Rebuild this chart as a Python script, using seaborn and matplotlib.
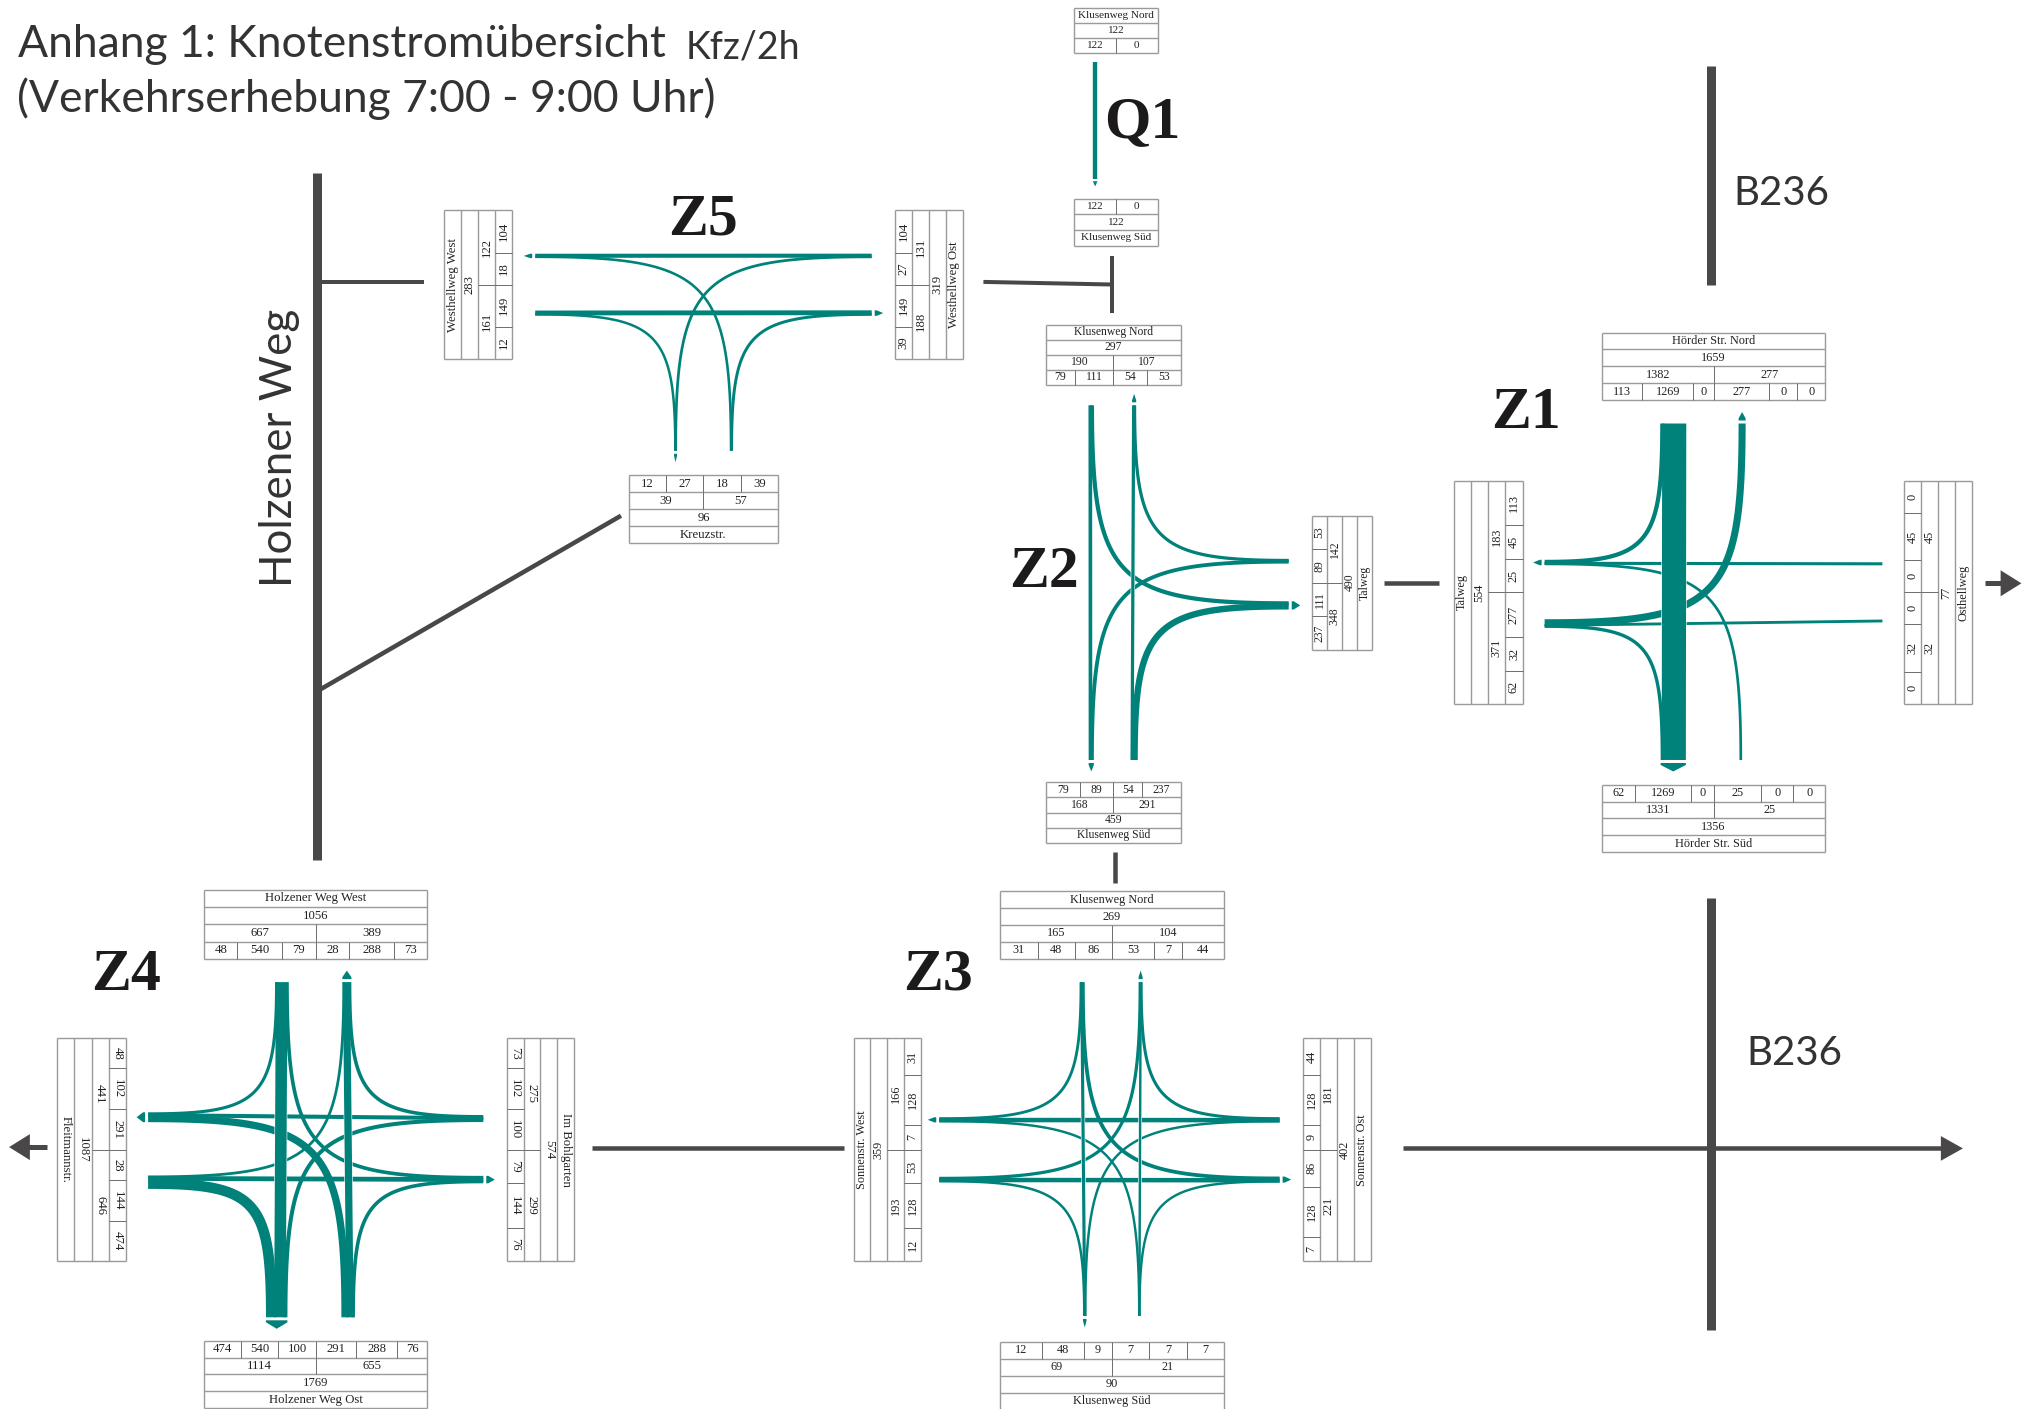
import numpy as np
import matplotlib
matplotlib.use("Agg")
import matplotlib.pyplot as plt
import seaborn as sns

# ---------- data: counts per arm, in spatial order ----------
Q1_N = ("Klusenweg Nord", 122, None, [[122], [0]])
Q1_S = ("Klusenweg Süd", 122, None, [[122], [0]])

Z5_W = ("Westhellweg West", 283, [122, 161], [[104, 18], [149, 12]])
Z5_E = ("Westhellweg Ost", 319, [131, 188], [[104, 27], [149, 39]])
Z5_S = ("Kreuzstr.", 96, [39, 57], [[12, 27], [18, 39]])

Z2_N = ("Klusenweg Nord", 297, [190, 107], [[79, 111], [54, 53]])
Z2_E = ("Talweg", 490, [142, 348], [[53, 89], [111, 237]])
Z2_S = ("Klusenweg Süd", 459, [168, 291], [[79, 89], [54, 237]])

Z1_N = ("Hörder Str. Nord", 1659, [1382, 277], [[113, 1269, 0], [277, 0, 0]])
Z1_W = ("Talweg", 554, [183, 371], [[113, 45, 25], [277, 32, 62]])
Z1_E = ("Osthellweg", 77, [45, 32], [[0, 45, 0], [0, 32, 0]])
Z1_S = ("Hörder Str. Süd", 1356, [1331, 25], [[62, 1269, 0], [25, 0, 0]])

Z3_N = ("Klusenweg Nord", 269, [165, 104], [[31, 48, 86], [53, 7, 44]])
Z3_W = ("Sonnenstr. West", 359, [166, 193], [[31, 128, 7], [53, 128, 12]])
Z3_E = ("Sonnenstr. Ost", 402, [181, 221], [[44, 128, 9], [86, 128, 7]])
Z3_S = ("Klusenweg Süd", 90, [69, 21], [[12, 48, 9], [7, 7, 7]])

Z4_N = ("Holzener Weg West", 1056, [667, 389], [[48, 540, 79], [28, 288, 73]])
Z4_W = ("Fleitmannstr.", 1087, [441, 646], [[48, 102, 291], [28, 144, 474]])
Z4_E = ("Im Bohlgarten", 574, [275, 299], [[73, 102, 100], [79, 144, 76]])
Z4_S = ("Holzener Weg Ost", 1769, [1114, 655], [[474, 540, 100], [291, 288, 76]])

TITLE_1 = "Anhang 1: Knotenstromübersicht"
TITLE_UNIT = "Kfz/2h"
TITLE_2 = "(Verkehrserhebung 7:00 - 9:00 Uhr)"

# ---------- layout (in 1568-wide sketch units) ----------
S = 2037 / 1568
TEAL = "#00827b"
ROAD = "#4a4748"
INK = "#1c1a1a"
FLOW_K = 0.0172
FLOW_MIN = 2.3

JUNCTIONS = {
    "Z5": {
        "W": dict(data=Z5_W, box=(342, 394, 162, 276), end=412, inn=241, out=197, arrow=True),
        "E": dict(data=Z5_E, box=(689, 741, 162, 276), end=671, inn=197, out=241, arrow=True),
        "S": dict(data=Z5_S, box=(484, 599, 366, 418), end=347, inn=563, out=520, arrow=True),
    },
    "Z2": {
        "N": dict(data=Z2_N, box=(805, 909, 250, 296), end=312, inn=840, out=873, arrow=True),
        "E": dict(data=Z2_E, box=(1010, 1056, 397, 500), end=992, inn=432, out=466, arrow=True),
        "S": dict(data=Z2_S, box=(805, 909, 602, 649), end=585, inn=873, out=840, arrow=True),
    },
    "Z1": {
        "N": dict(data=Z1_N, box=(1233, 1405, 256, 308), end=326, inn=1288, out=1341, arrow=True),
        "W": dict(data=Z1_W, box=(1119, 1172, 370, 542), end=1189, inn=480, out=433, arrow=True),
        "E": dict(data=Z1_E, box=(1466, 1518, 370, 542), end=1449, inn=434, out=478, arrow=False),
        "S": dict(data=Z1_S, box=(1233, 1405, 604, 656), end=585, inn=1340, out=1288, arrow=True),
    },
    "Z3": {
        "N": dict(data=Z3_N, box=(770, 942, 686, 738), end=756, inn=833, out=878, arrow=True),
        "W": dict(data=Z3_W, box=(657, 709, 799, 971), end=723, inn=908, out=862, arrow=True),
        "E": dict(data=Z3_E, box=(1003, 1055, 799, 971), end=985, inn=862, out=908, arrow=True),
        "S": dict(data=Z3_S, box=(770, 942, 1033, 1085), end=1013, inn=877, out=835, arrow=True),
    },
    "Z4": {
        "N": dict(data=Z4_N, box=(157, 329, 685, 738), end=756, inn=217, out=267, arrow=True),
        "W": dict(data=Z4_W, box=(44, 97, 799, 971), end=114, inn=910, out=860, arrow=True, rot=-90),
        "E": dict(data=Z4_E, box=(390, 442, 799, 971), end=372, inn=861, out=908, arrow=True, rot=-90),
        "S": dict(data=Z4_S, box=(157, 329, 1032, 1084), end=1014, inn=268, out=213, arrow=True),
    },
}
TABLE_FONT = {"Z5": 9.2, "Z2": 8.4, "Z1": 8.8, "Z3": 8.8, "Z4": 9.2}
ORDER = {"N": "WSE", "W": "NES", "E": "NWS", "S": "WNE"}
IN_GROUP = {"N": 0, "W": 1, "E": 0, "S": 1}
OUTWARD = {"N": (0, -1), "S": (0, 1), "W": (-1, 0), "E": (1, 0)}

sns.set_theme(style="white")
fig = plt.figure(figsize=(20.37, 14.09), dpi=100, facecolor="white")
ax = fig.add_axes([0, 0, 1, 1])
PX = 0.72


def stroke(xs, ys, w, color=TEAL, cap="butt"):
    sns.lineplot(x=list(xs), y=list(ys), sort=False, estimator=None, errorbar=None,
                 linewidth=w * PX, color=color, solid_capstyle=cap, legend=False, ax=ax)


def flow_path(p0, p3, corner):
    p0, p3 = np.array(p0), np.array(p3)
    t = np.linspace(0, 1, 80)[:, None]
    if corner is None:
        return p0 + t * (p3 - p0)
    a = 0.88
    c = np.array(corner)
    p1 = p0 + a * (c - p0)
    p2 = p3 + a * (c - p3)
    return (1 - t) ** 3 * p0 + 3 * (1 - t) ** 2 * t * p1 + 3 * (1 - t) * t ** 2 * p2 + t ** 3 * p3


def offset(values, i):
    return FLOW_K * (sum(values[:i]) + values[i] / 2 - sum(values) / 2)


def port_point(arm, spec, off, key):
    cross = spec[key] * S + off
    end = spec["end"] * S
    return (cross, end) if arm in "NS" else (end, cross)


def draw_arrow(arm, spec, values):
    w = FLOW_MIN + FLOW_K * sum(values)
    dx, dy = OUTWARD[arm]
    px, py = port_point(arm, spec, 0, "out")
    gap, neck, tip = 3.0, 2.0, 6.5
    nx, ny = -dy, dx
    along = [gap, gap + neck, gap + neck + tip, gap + neck, gap]
    across = [-w / 2, -w / 2, 0, w / 2, w / 2]
    xs = [px + dx * a + nx * c for a, c in zip(along, across)]
    ys = [py + dy * a + ny * c for a, c in zip(along, across)]
    ax.fill(xs, ys, color=TEAL, lw=0)


def draw_junction(arms):
    names = list(arms)
    flows = []
    for arm in names:
        spec = arms[arm]
        partners = [p for p in ORDER[arm] if p in arms]
        in_vals = spec["data"][3][IN_GROUP[arm]]
        for i, target in enumerate(partners):
            v = in_vals[i]
            if v == 0:
                continue
            tspec = arms[target]
            t_partners = [p for p in ORDER[target] if p in arms]
            t_vals = tspec["data"][3][1 - IN_GROUP[target]]
            j = t_partners.index(arm)
            p0 = port_point(arm, spec, offset(in_vals, i), "inn")
            p3 = port_point(target, tspec, offset(t_vals, j), "out")
            if (arm in "NS") == (target in "NS"):
                corner = None
                rank = 2 if arm in "NS" else 1
            elif arm in "NS":
                corner = (p0[0], p3[1])
                rank = 0
            else:
                corner = (p3[0], p0[1])
                rank = 0
            flows.append((rank, flow_path(p0, p3, corner), FLOW_MIN + FLOW_K * v))
    flows.sort(key=lambda f: f[0])
    for rank, pts, w in flows:
        if rank == 2:
            i0, i1 = int(0.28 * len(pts)), int(0.72 * len(pts))
            stroke(pts[i0:i1, 0], pts[i0:i1, 1], w + 1.2, color="white")
        stroke(pts[:, 0], pts[:, 1], w)
    for arm in names:
        spec = arms[arm]
        if spec["arrow"]:
            draw_arrow(arm, spec, spec["data"][3][1 - IN_GROUP[arm]])


def draw_table(arm, data, box, rot=90, fs=9.2):
    name, total, halves, groups = data
    x0, x1, y0, y1 = [b * S for b in box]
    n_levels = 4 if halves is not None else 3
    horizontal = arm in "NS"
    reverse = arm in "SE"
    depth0, depth1 = (y0, y1) if horizontal else (x0, x1)
    along0, along1 = (x0, x1) if horizontal else (y0, y1)
    step = (depth1 - depth0) / n_levels
    mid = (along0 + along1) / 2

    def hline(d, a0, a1, col="#9a9a9a", lw=1.0):
        if horizontal:
            ax.plot([a0, a1], [d, d], color=col, lw=lw * PX * 1.4, solid_capstyle="butt")
        else:
            ax.plot([d, d], [a0, a1], color=col, lw=lw * PX * 1.4, solid_capstyle="butt")

    def vline(a, d0, d1, col="#6e6e6e", lw=0.7):
        if horizontal:
            ax.plot([a, a], [d0, d1], color=col, lw=lw * PX * 1.4, solid_capstyle="butt")
        else:
            ax.plot([d0, d1], [a, a], color=col, lw=lw * PX * 1.4, solid_capstyle="butt")

    def label(a, d, s):
        xy = (a, d) if horizontal else (d, a)
        ax.text(xy[0], xy[1], s, ha="center", va="center", fontsize=fs,
                family="Liberation Serif", color="#222222",
                rotation=0 if horizontal else rot, rotation_mode="anchor")

    for k in range(n_levels + 1):
        hline(depth0 + k * step, along0, along1)
    vline(along0, depth0, depth1, "#9a9a9a", 1.0)
    vline(along1, depth0, depth1, "#9a9a9a", 1.0)

    for k in range(n_levels):
        idx = n_levels - 1 - k if reverse else k
        d0 = depth0 + idx * step
        d1 = d0 + step
        dc = (d0 + d1) / 2
        if k == 0:
            label(mid, dc, name)
        elif k == 1:
            label(mid, dc, str(total))
        elif k == 2 and halves is not None:
            vline(mid, d0, d1)
            label((along0 + mid) / 2, dc, str(halves[0]))
            label((mid + along1) / 2, dc, str(halves[1]))
        else:
            vline(mid, d0, d1)
            for g, (a0, a1) in zip(groups, ((along0, mid), (mid, along1))):
                weights = [len(str(v)) + 1 for v in g]
                edges = a0 + np.cumsum([0] + weights) / sum(weights) * (a1 - a0)
                for i, v in enumerate(g):
                    if i > 0:
                        vline(edges[i], d0, d1)
                    label((edges[i] + edges[i + 1]) / 2, dc, str(v))


def road(pts, w):
    xs = [p[0] * S for p in pts]
    ys = [p[1] * S for p in pts]
    stroke(xs, ys, w, color=ROAD)


def head(base, tip, half):
    xs = [base[0] * S, tip[0] * S, base[0] * S]
    ys = [(base[1] - half) * S, tip[1] * S, (base[1] + half) * S]
    ax.fill(xs, ys, color=ROAD, lw=0)


# ---------- road network ----------
road([(244, 133), (244, 662)], 9)
road([(246, 217), (326, 217)], 4)
road([(246, 531), (478, 397)], 4.5)
road([(757, 217), (856, 219)], 4)
road([(856, 197), (856, 241)], 4)
road([(858, 656), (858, 680)], 4.5)
road([(1065, 449), (1108, 449)], 4.5)
road([(1317, 51), (1317, 219)], 9)
road([(1317, 691), (1317, 1024)], 9)
road([(456, 884), (650, 884)], 4.5)
road([(1080, 884), (1497, 884)], 4.5)
head((1494, 884), (1511, 884), 9.5)
road([(1528, 449), (1543, 449)], 5)
head((1540, 449), (1556, 449), 10)
road([(36, 883), (20, 883)], 5)
head((23, 883), (7, 883), 10)

# ---------- flows ----------
stroke([843 * S, 843 * S], [48 * S, 138 * S], FLOW_MIN + FLOW_K * Q1_N[3][0][0])
ax.fill(np.array([841.2, 844.8, 843]) * S, np.array([139.5, 139.5, 143.5]) * S, color=TEAL, lw=0)
for arms in JUNCTIONS.values():
    draw_junction(arms)

# ---------- tables ----------
draw_table("N", Q1_N, (827, 891, 6, 41), fs=8.0)
draw_table("S", Q1_S, (827, 891, 153, 189), fs=8.0)
for zname, arms in JUNCTIONS.items():
    for arm, spec in arms.items():
        draw_table(arm, spec["data"], spec["box"], rot=spec.get("rot", 90), fs=TABLE_FONT[zname])

# ---------- labels ----------
for txt, cx, cy in [("Q1", 879, 95), ("Z5", 541, 170), ("Z2", 804, 441),
                    ("Z1", 1175, 319), ("Z3", 722, 751), ("Z4", 97, 751)]:
    ax.text(cx * S, cy * S, txt, ha="center", va="center", fontsize=43, fontweight="bold",
            family="Liberation Serif", color=INK)

TITLE_FONT = "Lato"
ax.text(14 * S, 44 * S, TITLE_1, fontsize=32, family=TITLE_FONT, color="#333333", va="baseline")
ax.text(528 * S, 45 * S, TITLE_UNIT, fontsize=27, family=TITLE_FONT, color="#333333", va="baseline")
ax.text(13 * S, 86 * S, TITLE_2, fontsize=32, family=TITLE_FONT, color="#333333", va="baseline")
ax.text(215 * S, 345 * S, "Holzener Weg", fontsize=31.6, family=TITLE_FONT, color="#333333",
        rotation=90, ha="center", va="center")
ax.text(1371 * S, 149 * S, "B236", fontsize=29, family=TITLE_FONT, color="#333333", ha="center", va="center")
ax.text(1381 * S, 811 * S, "B236", fontsize=29, family=TITLE_FONT, color="#333333", ha="center", va="center")

ax.set_xlim(0, 2037)
ax.set_ylim(1409, 0)
ax.axis("off")
fig.savefig("out.png", dpi=100, facecolor="white")
